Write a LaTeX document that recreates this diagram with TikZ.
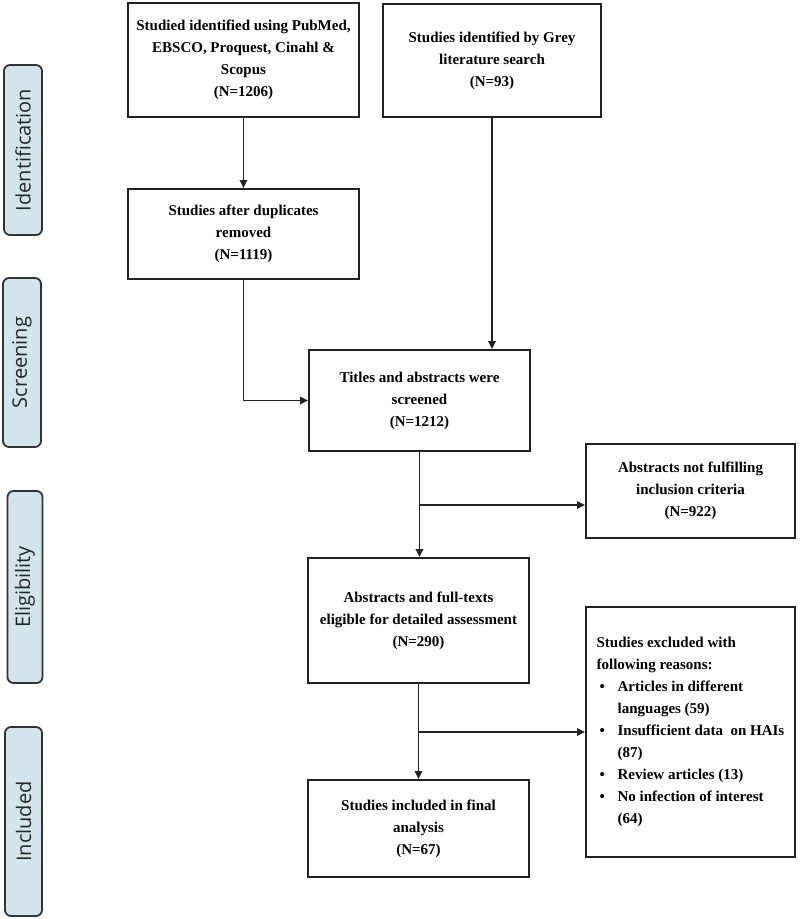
\documentclass[tikz,border=0pt]{standalone}
\usepackage{fontspec}
\setmainfont{Liberation Serif}
\newfontfamily\sidefont{Open Sans}
\usetikzlibrary{arrows.meta}
\definecolor{sidefill}{HTML}{D2E5ED}
\definecolor{sideline}{HTML}{333333}
\definecolor{boxline}{HTML}{222222}
\newcommand\gblt{\makebox[21pt][l]{\hspace*{3pt}\textbullet}}
\newcommand\gind{\hspace*{21pt}}
\begin{document}
\begin{tikzpicture}[x=1pt,y=-1pt,
  box/.style={draw=boxline, line width=2pt, inner sep=0pt, align=center,
    font=\bfseries\fontsize{15}{22}\selectfont},
  side/.style={draw=sideline, fill=sidefill, line width=1.8pt, rounded corners=6pt,
    rotate=90, inner sep=0pt, text=black!85, font=\sidefont\fontsize{20}{22}\selectfont},
  conn/.style={line width=1.7pt, draw=boxline, -{Triangle[length=8pt,width=7.5pt]}}]
\useasboundingbox (0,0) rectangle (800,919);

% side labels
\node[side, minimum width=170pt, minimum height=38pt] (s1) at (23,150) {Identification};
\node[side, minimum width=169pt, minimum height=38pt] (s2) at (22,362.5) {Screening};
\node[side, minimum width=192pt, minimum height=35pt] (s3) at (25,587) {Eligibility};
\node[side, minimum width=189pt, minimum height=37pt] (s4) at (23.5,821.5) {Included};

% boxes
\node[box, minimum width=231pt, minimum height=114pt] (A) at (243.5,60)
  {Studied identified using PubMed,\\ EBSCO, Proquest, Cinahl \&\\ Scopus\\ (N=1206)};
\node[box, minimum width=218pt, minimum height=113pt] (B) at (492,60.5)
  {Studies identified by Grey\\ literature search\\ (N=93)};
\node[box, minimum width=231pt, minimum height=90pt] (C) at (243.5,234)
  {Studies after duplicates\\ removed\\ (N=1119)};
\node[box, minimum width=221pt, minimum height=101pt] (D) at (419.5,400.5)
  {Titles and abstracts were\\ screened\\ (N=1212)};
\node[box, minimum width=209pt, minimum height=94pt] (E) at (690.5,491)
  {Abstracts not fulfilling\\ inclusion criteria\\ (N=922)};
\node[box, minimum width=221pt, minimum height=125pt] (F) at (418.5,620.5)
  {Abstracts and full-texts\\ eligible for detailed assessment\\ (N=290)};
\node[box, minimum width=209pt, minimum height=250pt, align=left] (G) at (690.5,732)
  {Studies excluded with\\ following reasons:\\
   \gblt Articles in different\\ \gind languages (59)\\
   \gblt Insufficient data\ \ on HAIs\\ \gind (87)\\
   \gblt Review articles (13)\\
   \gblt No infection of interest\\ \gind (64)};
\node[box, minimum width=221pt, minimum height=97pt] (H) at (418.5,828.5)
  {Studies included in final\\ analysis\\ (N=67)};

% connectors
\draw[conn] (A.south) -- (C.north);
\draw[conn] (B.south) -- (B.south |- D.north);
\draw[conn] (C.south) |- (D.west);
\draw[conn] (D.south) -- (D.south |- F.north);
\coordinate (b1) at (419.5,505);
\draw[conn] (b1) -- (b1 -| E.west);
\draw[conn] (F.south) -- (F.south |- H.north);
\coordinate (b2) at (418.5,732);
\draw[conn] (b2) -- (G.west);
\end{tikzpicture}
\end{document}
